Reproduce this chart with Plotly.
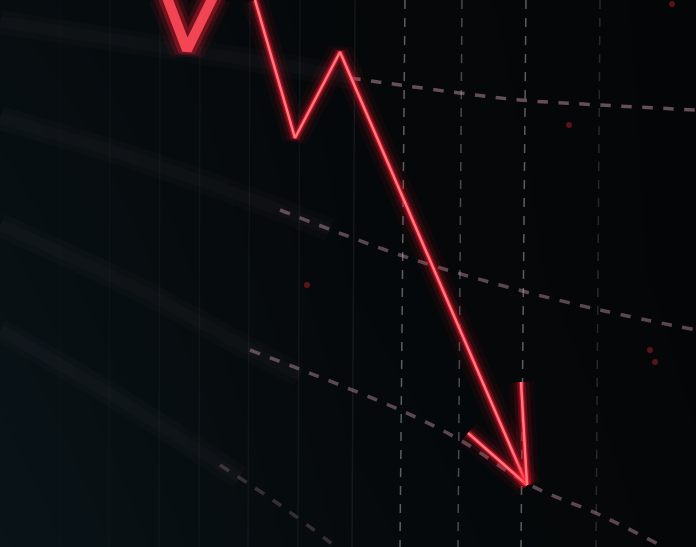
import plotly.graph_objects as go

# Main falling red line (image coordinates: x to the right, y downward)
trend_x = [255, 295, 340, 527]
trend_y = [0, 138, 52, 485]
# Out-of-focus V at top-left
blur_x = [166, 187, 214]
blur_y = [-5, 50, -5]
# Arrowhead strokes
head_left_x = [468, 527]
head_left_y = [433, 485]
head_right_x = [521, 527]
head_right_y = [382, 485]

# Perspective grid curves: blurred left part, dashed right part
grid_a_blur_x = [0, 150, 300, 360]
grid_a_blur_y = [22, 45, 68, 80]
grid_a_x = [350, 400, 460, 520, 600, 696]
grid_a_y = [78, 85, 93, 100, 105, 110]
grid_b_blur_x = [0, 140, 280, 330]
grid_b_blur_y = [118, 160, 210, 230]
grid_b_x = [280, 400, 500, 600, 696]
grid_b_y = [210, 255, 285, 310, 330]
grid_c_blur_x = [0, 140, 260, 300]
grid_c_blur_y = [225, 290, 355, 375]
grid_c_x = [250, 400, 460, 530, 600, 660]
grid_c_y = [350, 410, 440, 485, 515, 545]
grid_d_blur_x = [0, 120, 240]
grid_d_blur_y = [330, 400, 478]
grid_d_x = [220, 280, 340]
grid_d_y = [465, 505, 550]

# Vertical grid lines (top x, bottom x)
vert_top = [405, 462, 526, 600, 355, 300, 250, 200, 160, 110, 60]
vert_bot = [400, 458, 521, 596, 352, 298, 248, 199, 159, 109, 60]
vert_alpha = [0.45, 0.35, 0.45, 0.18, 0.08, 0.06, 0.05, 0.045, 0.04, 0.03, 0.025]
vert_dash = ["dash", "dash", "dash", "dash", "solid", "solid", "solid", "solid", "solid", "solid", "solid"]

# Background tint grid
bg_x = [0, 350, 696]
bg_y = [0, 273, 547]
bg_z = [[0.45, 0.15, 0.0],
        [0.65, 0.2, 0.0],
        [0.85, 0.3, 0.05]]

fig = go.Figure()

fig.add_trace(go.Heatmap(x=bg_x, y=bg_y, z=bg_z, zsmooth="best", showscale=False,
                         colorscale=[[0, "#040506"], [1, "#0a161b"]], zmin=0, zmax=1,
                         hoverinfo="skip"))

for xt, xb, a, d in zip(vert_top, vert_bot, vert_alpha, vert_dash):
    fig.add_trace(go.Scatter(x=[xt, xb], y=[0, 547], mode="lines",
                             line=dict(color=f"rgba(200,200,205,{a})", width=1.5, dash=d),
                             hoverinfo="skip", showlegend=False))

for bx, by, gx, gy, a in [
        (grid_a_blur_x, grid_a_blur_y, grid_a_x, grid_a_y, 0.5),
        (grid_b_blur_x, grid_b_blur_y, grid_b_x, grid_b_y, 0.45),
        (grid_c_blur_x, grid_c_blur_y, grid_c_x, grid_c_y, 0.45),
        (grid_d_blur_x, grid_d_blur_y, grid_d_x, grid_d_y, 0.25)]:
    for w, ba in [(24, 0.03), (12, 0.035)]:
        fig.add_trace(go.Scatter(x=bx, y=by, mode="lines", line_shape="spline",
                                 line=dict(color=f"rgba(150,120,140,{ba})", width=w),
                                 hoverinfo="skip", showlegend=False))
    fig.add_trace(go.Scatter(x=gx, y=gy, mode="lines", line_shape="spline",
                             line=dict(color=f"rgba(200,150,170,{a})", width=3.5, dash="dash"),
                             hoverinfo="skip", showlegend=False))

# Blurred V
for w, a in [(36, 0.07), (26, 0.14), (18, 0.3)]:
    fig.add_trace(go.Scatter(x=blur_x, y=blur_y, mode="lines",
                             line=dict(color=f"rgba(255,30,50,{a})", width=w),
                             hoverinfo="skip", showlegend=False))
fig.add_trace(go.Scatter(x=blur_x, y=blur_y, mode="lines",
                         line=dict(color="rgba(255,75,90,0.9)", width=10),
                         hoverinfo="skip", showlegend=False))

# Glowing trend and arrow
for xs, ys in [(trend_x, trend_y), (head_left_x, head_left_y), (head_right_x, head_right_y)]:
    for w, a in [(26, 0.05), (16, 0.1), (9, 0.25), (5, 0.55)]:
        fig.add_trace(go.Scatter(x=xs, y=ys, mode="lines",
                                 line=dict(color=f"rgba(255,25,45,{a})", width=w),
                                 hoverinfo="skip", showlegend=False))
    fig.add_trace(go.Scatter(x=xs, y=ys, mode="lines",
                             line=dict(color="rgb(255,120,130)", width=2.5),
                             hoverinfo="skip", showlegend=False))

# small red specks
fig.add_trace(go.Scatter(x=[672, 569, 307, 650, 655], y=[4, 125, 285, 350, 362], mode="markers",
                         marker=dict(color="rgba(190,40,40,0.45)", size=6),
                         hoverinfo="skip", showlegend=False))

fig.update_layout(
    width=696, height=547,
    margin=dict(l=0, r=0, t=0, b=0),
    paper_bgcolor="#06080b", plot_bgcolor="#06080b",
    xaxis=dict(range=[0, 696], visible=False, fixedrange=True),
    yaxis=dict(range=[547, 0], visible=False, fixedrange=True),
    showlegend=False,
)
fig.write_html("out.html", config={"displayModeBar": False},
               post_script="document.body.style.margin='0';document.body.style.background='#06080b';")
